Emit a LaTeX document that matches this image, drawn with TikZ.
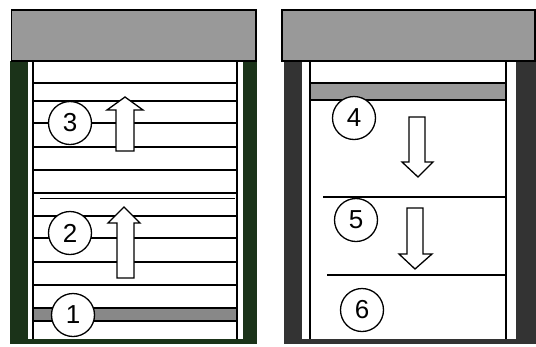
\documentclass[tikz,border=0pt]{standalone}
\usepackage{fontspec}
\setmainfont{Liberation Sans}
\usepackage{tikz}
\usetikzlibrary{positioning}
\definecolor{wallgreen}{HTML}{1B3319}
\definecolor{walldark}{HTML}{333333}
\definecolor{capgray}{HTML}{999999}
\definecolor{bandgray}{HTML}{888888}

\tikzset{
 num/.style={circle,draw,fill=white,line width=1.3pt,minimum size=43pt,inner sep=0pt,font=\fontsize{26}{26}\selectfont},
 blk/.style={draw,fill=white,line width=1.3pt,line join=miter},
 gline/.style={line width=1.4pt},
 capbox/.style={draw,fill=capgray,line width=1.4pt}
}

\begin{document}
\begin{tikzpicture}[x=1pt,y=-1pt]
\useasboundingbox (0,0) rectangle (536,346);
% ---------- left panel
\begin{scope}
\fill[wallgreen] (10,61) rectangle (257,344);
\fill[white] (28,61) rectangle (243,339);
\draw[gline] (33,61)--(33,339);
\draw[gline] (237,61)--(237,339);
\foreach \y in {83,101,123,147,170,193,216,238,262,285}{
 \draw[gline] (33,\y)--(237,\y);}
\draw[line width=1pt] (40,198)--(235,198);
\draw[gline,fill=bandgray] (33,308) rectangle (237,321);
\draw[capbox] (11.7,10) rectangle (256,61);
\draw[blk] (116,151)--(116,110)--(107,110)--(125,97)--(143,110)--(134,110)--(134,151)--cycle;
\draw[blk] (117,278)--(117,223)--(108,223)--(124,207)--(140,223)--(134,223)--(134,278)--cycle;
\node[num] (c3) at (70,123){3};
\node[num] (c2) at (70,233){2};
\node[num] (c1) at (73,315){1};
\end{scope}
% ---------- right panel
\begin{scope}
\fill[walldark] (284,61) rectangle (536,344);
\fill[white] (302,61) rectangle (516,339);
\draw[gline] (310,61)--(310,339);
\draw[gline] (506,61)--(506,339);
\draw[gline,fill=capgray] (310,83) rectangle (506,100);
\draw[gline] (323,197)--(506,197);
\draw[gline] (327,275)--(506,275);
\draw[capbox] (282,10) rectangle (535,61);
\draw[blk] (409,117)--(425,117)--(425,162)--(433,162)--(418,177)--(402,162)--(409,162)--cycle;
\draw[blk] (407,208)--(423,208)--(423,254)--(432,254)--(415,269)--(399,254)--(407,254)--cycle;
\node[num] (c4) at (354,118){4};
\node[num] (c5) at (356,220){5};
\node[num] (c6) at (362,310){6};
\end{scope}
\end{tikzpicture}
\end{document}
